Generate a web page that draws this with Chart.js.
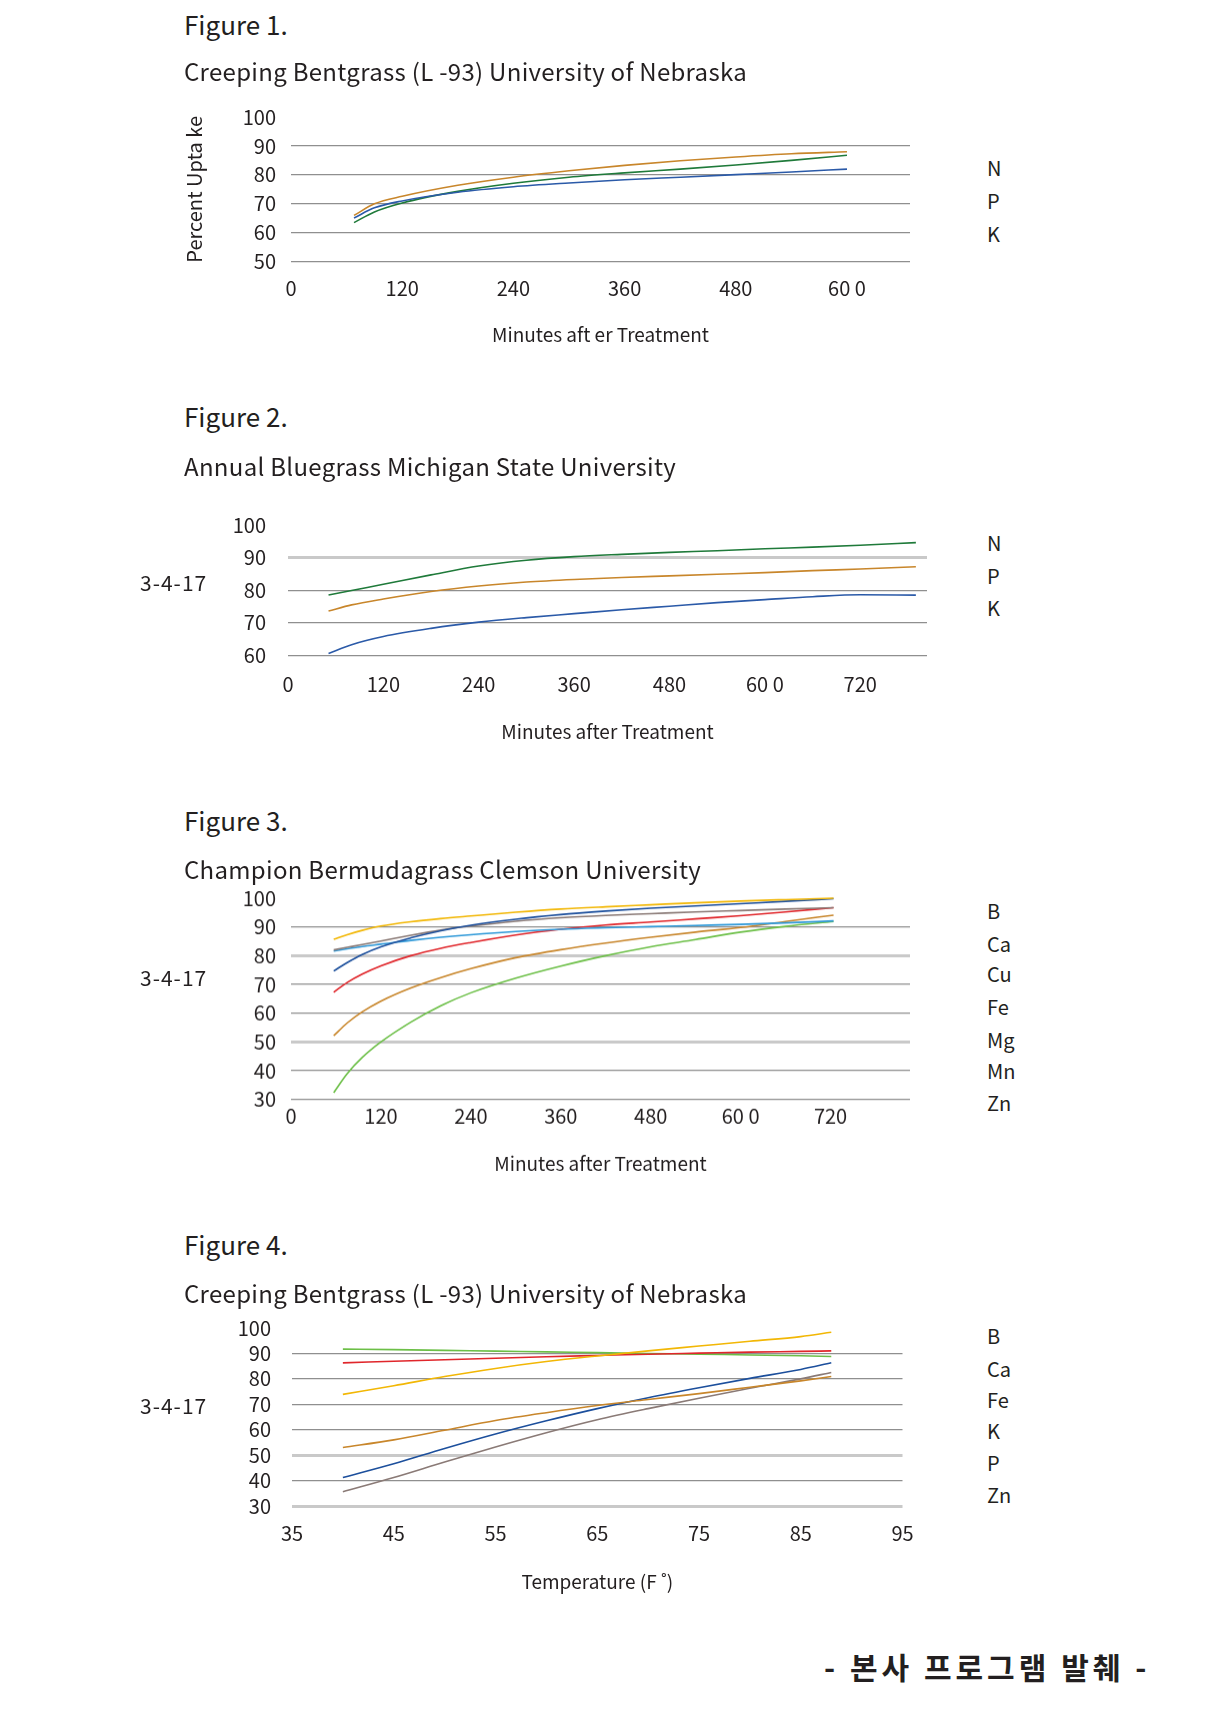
<!DOCTYPE html>
<html>
<head>
<meta charset="utf-8">
<script src="https://cdn.jsdelivr.net/npm/chart.js@4.4.1/dist/chart.umd.min.js"></script>
<style>
  body { margin: 0; width: 1210px; height: 1729px; background: #fff; position: relative; overflow: hidden;
         font-family: "Noto Sans CJK KR", "Noto Sans", sans-serif; color: #231f20; }
  .txt { position: absolute; white-space: nowrap; line-height: 1; }
  .fig { font-size: 26px; }
  .sub { font-size: 24px; letter-spacing: 0.3px; }
  .lbl { font-size: 20px; }
  .fecha { font-size: 21px; letter-spacing: 1px; }
  .box { position: absolute; }
</style>
</head>
<body>
<div class="box" id="w1"><canvas id="c1"></canvas></div>
<div class="box" id="w2"><canvas id="c2"></canvas></div>
<div class="box" id="w3"><canvas id="c3"></canvas></div>
<div class="box" id="w4"><canvas id="c4"></canvas></div>
<script>
// Figure 1 - Creeping Bentgrass, minutes
const minutos1 = [68, 90, 120, 180, 240, 300, 360, 420, 480, 540, 600]
const n1 = [65.1, 68.6, 71, 74, 75.9, 77.2, 78.3, 79.2, 80.1, 81, 82]
const p1 = [66, 70, 72.6, 76.4, 79.2, 81.4, 83.3, 84.9, 86.2, 87.3, 88]
const k1 = [63.5, 67.2, 70.3, 74.3, 77.1, 79.2, 80.7, 82, 83.4, 85, 86.8]
const xTicks1 = [0, 120, 240, 360, 480, 600]
const xLabels1 = ['0', '120', '240', '360', '480', '60 0']
const yTicks1 = [50, 60, 70, 80, 90, 100]

// Figure 2 - Annual Bluegrass
const minutos2 = [51, 80, 120, 180, 240, 300, 360, 420, 480, 540, 600, 660, 720, 790]
const n2 = [78.5, 79.9, 81.8, 84.7, 87.4, 89.2, 90.3, 91, 91.6, 92.1, 92.7, 93.2, 93.8, 94.6]
const p2 = [73.6, 75.5, 77.3, 79.6, 81.3, 82.5, 83.3, 83.9, 84.4, 84.9, 85.4, 86, 86.5, 87.2]
const k2 = [60.6, 63.3, 65.8, 68.3, 70.2, 71.6, 72.8, 74, 75.1, 76.2, 77.1, 78, 78.6, 78.5]
const xTicks2 = [0, 120, 240, 360, 480, 600, 720]
const xLabels2 = ['0', '120', '240', '360', '480', '60 0', '720']
const yTicks2 = [60, 70, 80, 90, 100]

// Figure 3 - Champion Bermudagrass
const minutos3 = [57, 75, 95, 120, 160, 200, 240, 300, 360, 420, 480, 540, 600, 660, 724]
const b3 = [85.7, 87.3, 88.8, 90.3, 91.8, 92.9, 93.8, 95.1, 96.2, 97, 97.7, 98.4, 99, 99.5, 100]
const ca3 = [74.7, 77.6, 80.4, 83.1, 86.2, 88.7, 90.6, 92.7, 94.3, 95.5, 96.5, 97.3, 98.1, 98.9, 99.8]
const cu3 = [82, 82.9, 83.9, 85.1, 87.1, 88.9, 90.3, 92, 93.2, 94, 94.6, 95.2, 95.7, 96.2, 96.7]
const fe3 = [81.6, 82.4, 83.2, 84, 85.3, 86.4, 87.3, 88.4, 89.2, 89.7, 90.1, 90.5, 90.9, 91.4, 92.1]
const mg3 = [67.3, 70.7, 73.6, 76.5, 80, 82.6, 84.6, 87.2, 89.2, 90.7, 91.7, 92.8, 93.9, 95.2, 96.7]
const mn3 = [52.2, 56.6, 60.5, 64.2, 68.8, 72.4, 75.5, 79.3, 82.1, 84.4, 86.4, 88.2, 89.8, 91.9, 94.1]
const zn3 = [32.4, 39, 44.6, 50, 56.9, 62.6, 67.1, 72.2, 76.4, 80, 83.1, 85.6, 88.2, 90.2, 91.9]
const xTicks3 = [0, 120, 240, 360, 480, 600, 720]
const xLabels3 = ['0', '120', '240', '360', '480', '60 0', '720']
const yTicks3 = [30, 40, 50, 60, 70, 80, 90, 100]

// Figure 4 - Creeping Bentgrass, temperature
const temperatura4 = [40, 45, 50, 55, 60, 65, 70, 75, 80, 85, 88]
const b4 = [73.9, 77.3, 80.9, 84.1, 86.8, 89, 91, 92.9, 94.8, 96.6, 98.3]
const ca4 = [86.3, 86.9, 87.5, 88.1, 88.7, 89.2, 89.7, 90.1, 90.5, 90.8, 91]
const fe4 = [91.7, 91.5, 91.2, 90.9, 90.6, 90.3, 90, 89.7, 89.4, 89.1, 88.8]
const k4 = [53, 56, 59.8, 63.6, 66.7, 69.5, 71.9, 74.2, 76.7, 79.2, 80.9]
const p4 = [41.2, 46.6, 52.6, 58.3, 63.5, 68.3, 72.6, 76.5, 80.2, 83.7, 86.3]
const zn4 = [35.6, 41.2, 47.3, 53.2, 58.8, 63.9, 68.3, 72.4, 76.3, 80, 82.5]
const xTicks4 = [35, 45, 55, 65, 75, 85, 95]
const xLabels4 = ['35', '45', '55', '65', '75', '85', '95']
const yTicks4 = [30, 40, 50, 60, 70, 80, 90, 100]

const figuras = ['Figure 1.', 'Figure 2.', 'Figure 3.', 'Figure 4.']
const subtitulos = ['Creeping Bentgrass (L -93) University of Nebraska', 'Annual Bluegrass Michigan State University',
  'Champion Bermudagrass Clemson University', 'Creeping Bentgrass (L -93) University of Nebraska']
const leyenda1 = ['N', 'P', 'K']
const leyenda2 = ['N', 'P', 'K']
const leyenda3 = ['B', 'Ca', 'Cu', 'Fe', 'Mg', 'Mn', 'Zn']
const leyenda4 = ['B', 'Ca', 'Fe', 'K', 'P', 'Zn']

const TEXTO = '#231f20'
const fuenteTicks = { family: '"Noto Sans CJK KR", "Noto Sans", sans-serif', size: 20 }
const fuenteTitulo = { family: '"Noto Sans CJK KR", "Noto Sans", sans-serif', size: 19 }
const PAD_TOP = 45

// texto suelto en la pagina
const texto = (str, clase, left, centroY, size) => {
  const d = document.createElement('div')
  d.className = 'txt ' + clase
  d.textContent = str
  d.style.left = left + 'px'
  d.style.top = (centroY - size / 2) + 'px'
  document.body.appendChild(d)
  return d
}

const serie = (xs, ys, color) => ({
  data: xs.map((x, i) => ({ x, y: ys[i] })),
  borderColor: color,
  clip: false
})

const dibujar = (id, caja, series, ejes) => {
  const canvas = document.getElementById(id)
  const wrap = canvas.parentNode
  const top = caja.top - PAD_TOP
  wrap.style.left = '150px'
  wrap.style.top = top + 'px'
  wrap.style.width = (caja.right + 10 - 150) + 'px'
  wrap.style.height = (caja.bottom + 100 - top) + 'px'
  new Chart(canvas, {
    type: 'line',
    data: { datasets: series },
    options: {
      responsive: true,
      maintainAspectRatio: false,
      animation: false,
      layout: { padding: { top: PAD_TOP, right: 10, left: 0, bottom: 0 } },
      plugins: { legend: { display: false }, tooltip: { enabled: false } },
      elements: {
        point: { radius: 0 },
        line: { borderWidth: 1.6, cubicInterpolationMode: 'monotone' }
      },
      scales: {
        x: {
          type: 'linear',
          min: ejes.xMin,
          max: ejes.xMax,
          afterBuildTicks: s => { s.ticks = ejes.xTicks.map(v => ({ value: v })) },
          afterFit: s => { s.height = 100 },
          grid: { display: false, drawTicks: false },
          border: { display: false },
          ticks: {
            padding: ejes.xPad, font: fuenteTicks, color: TEXTO, maxRotation: 0, autoSkip: false,
            callback: (v, i) => ejes.xLabels[i]
          },
          title: {
            display: true, text: ejes.xTitle, font: fuenteTitulo, color: TEXTO,
            padding: { top: 0, bottom: 100 - ejes.xTitleOff - 11.4 }
          }
        },
        y: {
          min: ejes.yTicks[0],
          max: 100,
          afterBuildTicks: s => { s.ticks = ejes.yTicks.map(v => ({ value: v })) },
          afterFit: s => { s.width = caja.left - 150 },
          grid: {
            drawTicks: false,
            color: c => c.tick && c.tick.value === 100 ? 'rgba(0,0,0,0)'
              : (ejes.claras.includes(c.tick && c.tick.value) ? '#c9c9c9' : '#8f8f8f'),
            lineWidth: c => ejes.claras.includes(c.tick && c.tick.value) ? 3 : 1.3
          },
          border: { display: false },
          ticks: { padding: ejes.yPad, font: fuenteTicks, color: TEXTO, autoSkip: false },
          title: {
            display: !!ejes.yTitle, text: ejes.yTitle || '', font: fuenteTicks, color: TEXTO,
            padding: { top: 32, bottom: 0 }
          }
        }
      }
    }
  })
}

// Titulos
const centrosFig = [24, 416, 820, 1244]
const centrosSub = [71, 466, 869, 1293]
figuras.forEach((f, i) => texto(f, 'fig', 184, centrosFig[i], 26))
subtitulos.forEach((s, i) => texto(s, 'sub', 184, centrosSub[i], 24))
;[582, 977, 1405].forEach(y => texto('3-4-17', 'fecha', 140, y, 21))

// Leyendas (solo texto)
const ponerLeyenda = (labels, ys) => labels.forEach((l, i) => texto(l, 'lbl', 987, ys[i], 20))
ponerLeyenda(leyenda1, [168, 201, 234])
ponerLeyenda(leyenda2, [543, 576, 608])
ponerLeyenda(leyenda3, [911, 944, 974, 1007, 1040, 1071, 1103])
ponerLeyenda(leyenda4, [1336, 1369, 1400, 1431, 1463, 1495])

const pie = texto('- 본사 프로그램 발췌 -', 'lbl', 0, 1666, 30)
pie.style.fontSize = '30px'
pie.style.fontWeight = 'bold'
pie.style.letterSpacing = '4px'
pie.style.left = (987 - pie.offsetWidth / 2) + 'px'

const AZUL = '#2b5aa8', NARANJA = '#c8862b', VERDE = '#1f7a3a'
const AMARILLO = '#f2b705', AZUL2 = '#1c4f9c', GRIS = '#8a7a76', CELESTE = '#2d98d8'
const ROJO = '#e0262b', VERDE2 = '#6cbf47'

dibujar('c1', { left: 291, right: 910, top: 116.7, bottom: 261.4 },
  [serie(minutos1, n1, AZUL), serie(minutos1, p1, NARANJA), serie(minutos1, k1, VERDE)],
  { xMin: 0, xMax: 668, xTicks: xTicks1, xLabels: xLabels1, yTicks: yTicks1, claras: [],
    xPad: 14.6, yPad: 15, xTitle: 'Minutes aft er Treatment', xTitleOff: 72.6, yTitle: 'Percent Upta ke' })

dibujar('c2', { left: 288, right: 927, top: 524.6, bottom: 655 },
  [serie(minutos2, n2, VERDE), serie(minutos2, p2, NARANJA), serie(minutos2, k2, AZUL)],
  { xMin: 0, xMax: 804, xTicks: xTicks2, xLabels: xLabels2, yTicks: yTicks2, claras: [90],
    xPad: 17, yPad: 22, xTitle: 'Minutes after Treatment', xTitleOff: 76 })

dibujar('c3', { left: 291, right: 910, top: 897.8, bottom: 1098.6 },
  [serie(minutos3, b3, AMARILLO), serie(minutos3, ca3, AZUL2), serie(minutos3, cu3, GRIS),
   serie(minutos3, fe3, CELESTE), serie(minutos3, mg3, ROJO), serie(minutos3, mn3, NARANJA),
   serie(minutos3, zn3, VERDE2)],
  { xMin: 0, xMax: 826, xTicks: xTicks3, xLabels: xLabels3, yTicks: yTicks3, claras: [80, 50],
    xPad: 4.4, yPad: 15, xTitle: 'Minutes after Treatment', xTitleOff: 64.4 })

dibujar('c4', { left: 292, right: 919, top: 1327.6, bottom: 1505.6 },
  [serie(temperatura4, b4, AMARILLO), serie(temperatura4, ca4, ROJO), serie(temperatura4, fe4, VERDE2),
   serie(temperatura4, k4, NARANJA), serie(temperatura4, p4, AZUL2), serie(temperatura4, zn4, GRIS)],
  { xMin: 35, xMax: 95, xTicks: xTicks4, xLabels: xLabels4, yTicks: yTicks4, claras: [50, 30],
    xPad: 15.4, yPad: 21, xTitle: 'Temperature (F ˚)', xTitleOff: 75.4 })
</script>
</body>
</html>
